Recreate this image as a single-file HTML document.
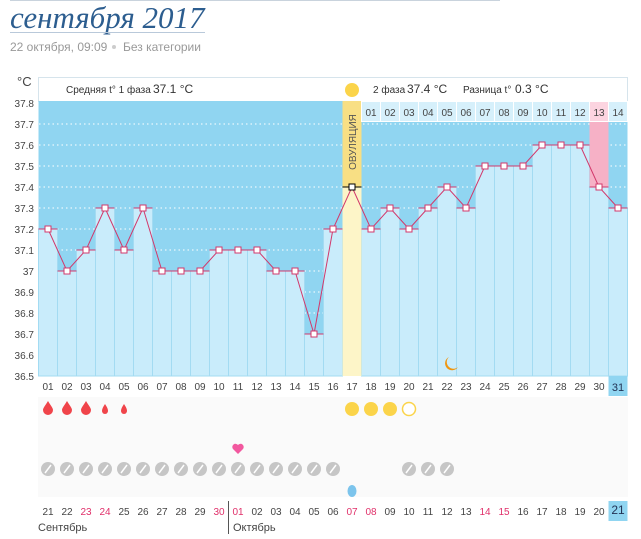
<!DOCTYPE html>
<html><head><meta charset="utf-8"><style>
body{margin:0;background:#fff;width:641px;height:534px;overflow:hidden;font-family:"Liberation Sans",sans-serif}
</style></head><body>
<svg width="641" height="534" xmlns="http://www.w3.org/2000/svg" font-family="Liberation Sans, sans-serif">
<line x1="10" y1="0.5" x2="500" y2="0.5" stroke="#c9d3dd"/>
<text x="10" y="28" font-family="Liberation Serif, serif" font-style="italic" font-size="31" fill="#2c5d8f">сентября 2017</text>
<line x1="10" y1="32.5" x2="205" y2="32.5" stroke="#b9c9da"/>
<text x="10" y="51" font-size="12" fill="#999">22 октября, 09:09</text>
<circle cx="114" cy="47" r="2" fill="#ccc"/>
<text x="123" y="51" font-size="12" fill="#999">Без категории</text>

<text x="17" y="86" font-size="13" fill="#444">°C</text>
<rect x="38.5" y="77.5" width="589" height="24" fill="#fff" stroke="#d6e4ec"/>
<text x="66" y="93" font-size="10" fill="#333">Средняя t° 1 фаза</text>
<text x="153" y="93" font-size="12" fill="#333">37.1 °C</text>
<text x="373" y="93" font-size="10" fill="#333">2 фаза</text>
<text x="407" y="93" font-size="12" fill="#333">37.4 °C</text>
<text x="463" y="93" font-size="10" fill="#333">Разница t°</text>
<text x="515" y="93" font-size="12" fill="#333">0.3 °C</text>

<rect x="38.5" y="101" width="589" height="275" fill="#90d5f1"/>
<g stroke="#fff" stroke-dasharray="1.5,3" stroke-width="1">
<line x1="39" y1="124" x2="627" y2="124"/><line x1="39" y1="145" x2="627" y2="145"/><line x1="39" y1="166" x2="627" y2="166"/><line x1="39" y1="187" x2="627" y2="187"/><line x1="39" y1="208" x2="627" y2="208"/><line x1="39" y1="229" x2="627" y2="229"/><line x1="39" y1="250" x2="627" y2="250"/><line x1="39" y1="271" x2="627" y2="271"/><line x1="39" y1="292" x2="627" y2="292"/><line x1="39" y1="313" x2="627" y2="313"/><line x1="39" y1="334" x2="627" y2="334"/><line x1="39" y1="355" x2="627" y2="355"/>
</g>
<g font-size="10" fill="#444" text-anchor="end">
<text x="34" y="107">37.8</text><text x="34" y="128">37.7</text><text x="34" y="149">37.6</text><text x="34" y="170">37.5</text><text x="34" y="191">37.4</text><text x="34" y="212">37.3</text><text x="34" y="233">37.2</text><text x="34" y="254">37.1</text><text x="34" y="275">37</text><text x="34" y="296">36.9</text><text x="34" y="317">36.8</text><text x="34" y="338">36.7</text><text x="34" y="359">36.6</text><text x="34" y="380">36.5</text>
</g>
<g fill="#c9ecfb" stroke="#a3dbf2" stroke-width="1">
<rect x="38.5" y="229" width="19" height="147"/><rect x="57.5" y="271" width="19" height="105"/><rect x="76.5" y="250" width="19" height="126"/><rect x="95.5" y="208" width="19" height="168"/><rect x="114.5" y="250" width="19" height="126"/><rect x="133.5" y="208" width="19" height="168"/><rect x="152.5" y="271" width="19" height="105"/><rect x="171.5" y="271" width="19" height="105"/><rect x="190.5" y="271" width="19" height="105"/><rect x="209.5" y="250" width="19" height="126"/><rect x="228.5" y="250" width="19" height="126"/><rect x="247.5" y="250" width="19" height="126"/><rect x="266.5" y="271" width="19" height="105"/><rect x="285.5" y="271" width="19" height="105"/><rect x="304.5" y="334" width="19" height="42"/><rect x="323.5" y="229" width="19" height="147"/>
<rect x="361.5" y="229" width="19" height="147"/><rect x="380.5" y="208" width="19" height="168"/><rect x="399.5" y="229" width="19" height="147"/><rect x="418.5" y="208" width="19" height="168"/><rect x="437.5" y="187" width="19" height="189"/><rect x="456.5" y="208" width="19" height="168"/><rect x="475.5" y="166" width="19" height="210"/><rect x="494.5" y="166" width="19" height="210"/><rect x="513.5" y="166" width="19" height="210"/><rect x="532.5" y="145" width="19" height="231"/><rect x="551.5" y="145" width="19" height="231"/><rect x="570.5" y="145" width="19" height="231"/><rect x="589.5" y="187" width="19" height="189"/><rect x="608.5" y="208" width="19" height="168"/>
</g>
<rect x="342.5" y="101" width="19" height="86" fill="#f8df84"/>
<rect x="342.5" y="187" width="19" height="189" fill="#fdf5c8"/>
<circle cx="352" cy="90" r="7" fill="#fbd44a"/>
<text transform="translate(356,142) rotate(-90)" font-size="10" fill="#555" text-anchor="middle">ОВУЛЯЦИЯ</text>
<rect x="589.5" y="122" width="19" height="65" fill="#f6b1c6"/>
<g fill="#d6f0fb" stroke="#fff">
<rect x="361.5" y="101.5" width="19" height="20"/><rect x="380.5" y="101.5" width="19" height="20"/><rect x="399.5" y="101.5" width="19" height="20"/><rect x="418.5" y="101.5" width="19" height="20"/><rect x="437.5" y="101.5" width="19" height="20"/><rect x="456.5" y="101.5" width="19" height="20"/><rect x="475.5" y="101.5" width="19" height="20"/><rect x="494.5" y="101.5" width="19" height="20"/><rect x="513.5" y="101.5" width="19" height="20"/><rect x="532.5" y="101.5" width="19" height="20"/><rect x="551.5" y="101.5" width="19" height="20"/><rect x="570.5" y="101.5" width="19" height="20"/><rect x="589.5" y="101.5" width="19" height="20" fill="#fcd4e0"/><rect x="608.5" y="101.5" width="19" height="20"/>
</g>
<g font-size="10" fill="#444" text-anchor="middle">
<text x="371" y="116">01</text><text x="390" y="116">02</text><text x="409" y="116">03</text><text x="428" y="116">04</text><text x="447" y="116">05</text><text x="466" y="116">06</text><text x="485" y="116">07</text><text x="504" y="116">08</text><text x="523" y="116">09</text><text x="542" y="116">10</text><text x="561" y="116">11</text><text x="580" y="116">12</text><text x="599" y="116">13</text><text x="618" y="116">14</text>
</g>
<g stroke="#d2386b" stroke-width="1">
<line x1="38.5" y1="229" x2="57.5" y2="229"/><line x1="57.5" y1="271" x2="76.5" y2="271"/><line x1="76.5" y1="250" x2="95.5" y2="250"/><line x1="95.5" y1="208" x2="114.5" y2="208"/><line x1="114.5" y1="250" x2="133.5" y2="250"/><line x1="133.5" y1="208" x2="152.5" y2="208"/><line x1="152.5" y1="271" x2="209.5" y2="271"/><line x1="209.5" y1="250" x2="266.5" y2="250"/><line x1="266.5" y1="271" x2="304.5" y2="271"/><line x1="304.5" y1="334" x2="323.5" y2="334"/><line x1="323.5" y1="229" x2="342.5" y2="229"/><line x1="361.5" y1="229" x2="380.5" y2="229"/><line x1="380.5" y1="208" x2="399.5" y2="208"/><line x1="399.5" y1="229" x2="418.5" y2="229"/><line x1="418.5" y1="208" x2="437.5" y2="208"/><line x1="437.5" y1="187" x2="456.5" y2="187"/><line x1="456.5" y1="208" x2="475.5" y2="208"/><line x1="475.5" y1="166" x2="532.5" y2="166"/><line x1="532.5" y1="145" x2="589.5" y2="145"/><line x1="589.5" y1="187" x2="608.5" y2="187"/><line x1="608.5" y1="208" x2="627.5" y2="208"/>
</g>
<line x1="342.5" y1="187" x2="361.5" y2="187" stroke="#000"/>
<polyline fill="none" stroke="#d2386b" stroke-width="1" points="48,229 67,271 86,250 105,208 124,250 143,208 162,271 181,271 200,271 219,250 238,250 257,250 276,271 295,271 314,334 333,229 352,187 371,229 390,208 409,229 428,208 447,187 466,208 485,166 504,166 523,166 542,145 561,145 580,145 599,187 618,208"/>
<g fill="#fff" stroke="#d2386b" stroke-width="1">
<rect x="45" y="226" width="6" height="6"/><rect x="64" y="268" width="6" height="6"/><rect x="83" y="247" width="6" height="6"/><rect x="102" y="205" width="6" height="6"/><rect x="121" y="247" width="6" height="6"/><rect x="140" y="205" width="6" height="6"/><rect x="159" y="268" width="6" height="6"/><rect x="178" y="268" width="6" height="6"/><rect x="197" y="268" width="6" height="6"/><rect x="216" y="247" width="6" height="6"/><rect x="235" y="247" width="6" height="6"/><rect x="254" y="247" width="6" height="6"/><rect x="273" y="268" width="6" height="6"/><rect x="292" y="268" width="6" height="6"/><rect x="311" y="331" width="6" height="6"/><rect x="330" y="226" width="6" height="6"/><rect x="368" y="226" width="6" height="6"/><rect x="387" y="205" width="6" height="6"/><rect x="406" y="226" width="6" height="6"/><rect x="425" y="205" width="6" height="6"/><rect x="444" y="184" width="6" height="6"/><rect x="463" y="205" width="6" height="6"/><rect x="482" y="163" width="6" height="6"/><rect x="501" y="163" width="6" height="6"/><rect x="520" y="163" width="6" height="6"/><rect x="539" y="142" width="6" height="6"/><rect x="558" y="142" width="6" height="6"/><rect x="577" y="142" width="6" height="6"/><rect x="596" y="184" width="6" height="6"/><rect x="615" y="205" width="6" height="6"/>
</g>
<rect x="349" y="184" width="6" height="6" fill="#fff" stroke="#000"/>
<path d="M449,357 a7,7 0 1,0 9,10 a6,6 0 0,1 -9,-10z" fill="#f0960f"/>

<rect x="38" y="397" width="590" height="100" fill="#fafafa"/>
<rect x="608.5" y="376" width="19" height="20" fill="#90d5f1"/>
<g font-size="10" fill="#444" text-anchor="middle">
<text x="48" y="390">01</text><text x="67" y="390">02</text><text x="86" y="390">03</text><text x="105" y="390">04</text><text x="124" y="390">05</text><text x="143" y="390">06</text><text x="162" y="390">07</text><text x="181" y="390">08</text><text x="200" y="390">09</text><text x="219" y="390">10</text><text x="238" y="390">11</text><text x="257" y="390">12</text><text x="276" y="390">13</text><text x="295" y="390">14</text><text x="314" y="390">15</text><text x="333" y="390">16</text><text x="352" y="390">17</text><text x="371" y="390">18</text><text x="390" y="390">19</text><text x="409" y="390">20</text><text x="428" y="390">21</text><text x="447" y="390">22</text><text x="466" y="390">23</text><text x="485" y="390">24</text><text x="504" y="390">25</text><text x="523" y="390">26</text><text x="542" y="390">27</text><text x="561" y="390">28</text><text x="580" y="390">29</text><text x="599" y="390">30</text><text x="618" y="391" font-size="11" fill="#235">31</text>
</g>
<g fill="#f0444a">
<path d="M48,401 C45,406 43,408 43,410 a5,5 0 0,0 10,0 C53,408 51,406 48,401z"/>
<path d="M67,401 C64,406 62,408 62,410 a5,5 0 0,0 10,0 C72,408 70,406 67,401z"/>
<path d="M86,401 C83,406 81,408 81,410 a5,5 0 0,0 10,0 C91,408 89,406 86,401z"/>
<path d="M105,404 C103,407 102,409 102,411 a3,3 0 0,0 6,0 C108,409 107,407 105,404z"/>
<path d="M124,404 C122,407 121,409 121,411 a3,3 0 0,0 6,0 C127,409 126,407 124,404z"/>
</g>
<g fill="#fbd44a"><circle cx="352" cy="409" r="7"/><circle cx="371" cy="409" r="7"/><circle cx="390" cy="409" r="7"/></g>
<circle cx="409" cy="409" r="6.5" fill="#fff" stroke="#fbd44a" stroke-width="1.5"/>
<path d="M238,454 L233,449 a3,3 0 0,1 5,-4 a3,3 0 0,1 5,4z" fill="#f2589f"/>
<g fill="#c6c6c6">
<circle cx="48" cy="469" r="7"/><circle cx="67" cy="469" r="7"/><circle cx="86" cy="469" r="7"/><circle cx="105" cy="469" r="7"/><circle cx="124" cy="469" r="7"/><circle cx="143" cy="469" r="7"/><circle cx="162" cy="469" r="7"/><circle cx="181" cy="469" r="7"/><circle cx="200" cy="469" r="7"/><circle cx="219" cy="469" r="7"/><circle cx="238" cy="469" r="7"/><circle cx="257" cy="469" r="7"/><circle cx="276" cy="469" r="7"/><circle cx="295" cy="469" r="7"/><circle cx="314" cy="469" r="7"/><circle cx="333" cy="469" r="7"/><circle cx="409" cy="469" r="7"/><circle cx="428" cy="469" r="7"/><circle cx="447" cy="469" r="7"/>
</g>
<g stroke="#fff" stroke-width="1.5">
<line x1="45" y1="473" x2="51" y2="465"/><line x1="64" y1="473" x2="70" y2="465"/><line x1="83" y1="473" x2="89" y2="465"/><line x1="102" y1="473" x2="108" y2="465"/><line x1="121" y1="473" x2="127" y2="465"/><line x1="140" y1="473" x2="146" y2="465"/><line x1="159" y1="473" x2="165" y2="465"/><line x1="178" y1="473" x2="184" y2="465"/><line x1="197" y1="473" x2="203" y2="465"/><line x1="216" y1="473" x2="222" y2="465"/><line x1="235" y1="473" x2="241" y2="465"/><line x1="254" y1="473" x2="260" y2="465"/><line x1="273" y1="473" x2="279" y2="465"/><line x1="292" y1="473" x2="298" y2="465"/><line x1="311" y1="473" x2="317" y2="465"/><line x1="330" y1="473" x2="336" y2="465"/><line x1="406" y1="473" x2="412" y2="465"/><line x1="425" y1="473" x2="431" y2="465"/><line x1="444" y1="473" x2="450" y2="465"/>
</g>
<ellipse cx="352" cy="491" rx="4.5" ry="6" fill="#7cc4ec"/>
<rect x="38" y="497" width="590" height="24" fill="#fff"/>
<rect x="608.5" y="501" width="19" height="20" fill="#90d5f1"/>
<line x1="228.5" y1="501" x2="228.5" y2="534" stroke="#555"/>
<g font-size="10" fill="#444" text-anchor="middle">
<text x="48" y="515">21</text><text x="67" y="515">22</text><text x="86" y="515" fill="#e0306a">23</text><text x="105" y="515" fill="#e0306a">24</text><text x="124" y="515">25</text><text x="143" y="515">26</text><text x="162" y="515">27</text><text x="181" y="515">28</text><text x="200" y="515">29</text><text x="219" y="515" fill="#e0306a">30</text><text x="238" y="515" fill="#e0306a">01</text><text x="257" y="515">02</text><text x="276" y="515">03</text><text x="295" y="515">04</text><text x="314" y="515">05</text><text x="333" y="515">06</text><text x="352" y="515" fill="#e0306a">07</text><text x="371" y="515" fill="#e0306a">08</text><text x="390" y="515">09</text><text x="409" y="515">10</text><text x="428" y="515">11</text><text x="447" y="515">12</text><text x="466" y="515">13</text><text x="485" y="515" fill="#e0306a">14</text><text x="504" y="515" fill="#e0306a">15</text><text x="523" y="515">16</text><text x="542" y="515">17</text><text x="561" y="515">18</text><text x="580" y="515">19</text><text x="599" y="515">20</text><text x="618" y="514" font-size="12" fill="#235">21</text>
</g>
<text x="38" y="531" font-size="11" fill="#444">Сентябрь</text>
<text x="233" y="531" font-size="11" fill="#444">Октябрь</text>
</svg>
</body></html>
